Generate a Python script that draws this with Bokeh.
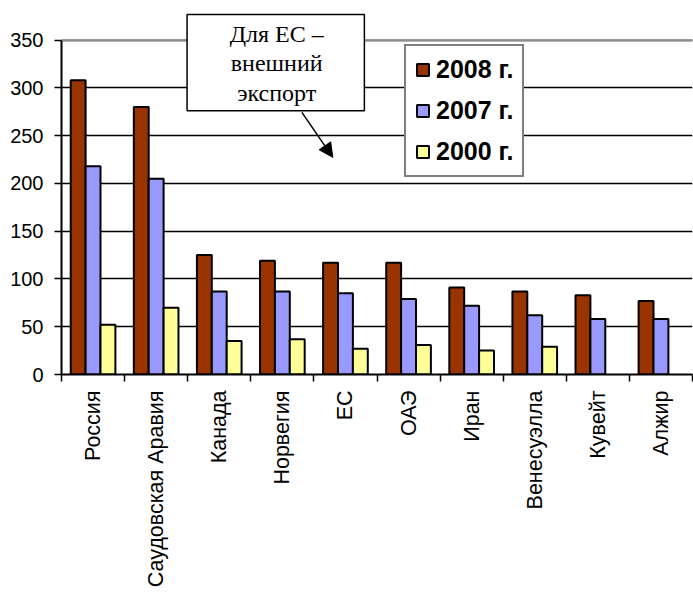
import math
from bokeh.plotting import figure
from bokeh.models import (Range1d, FixedTicker, Legend, LegendItem, BoxAnnotation,
                          Label, Arrow, NormalHead, ColumnDataSource, Span)
from bokeh.transform import dodge
from bokeh.embed import file_html
from bokeh.resources import INLINE

# ---- data ----
countries = ["Россия", "Саудовская Аравия", "Канада", "Норвегия", "ЕС",
             "ОАЭ", "Иран", "Венесуэлла", "Кувейт", "Алжир"]
v2008 = [308, 280, 125, 119, 117, 117, 91, 87, 83, 77]
v2007 = [218, 205, 87, 87, 85, 79, 72, 62, 58, 58]
v2000 = [52, 70, 35, 37, 27, 31, 25, 29, None, None]
series_labels = ["2008 г.", "2007 г.", "2000 г."]
series_colors = ["#993300", "#9999FF", "#FFFF99"]
y_ticks = [0, 50, 100, 150, 200, 250, 300, 350]
note_lines = ["Для ЕС –", "внешний", "экспорт"]

nan = float("nan")
centers = [i + 0.5 for i in range(len(countries))]
src = ColumnDataSource(dict(
    x=centers,
    s0=v2008,
    s1=v2007,
    s2=[nan if v is None else v for v in v2000],
))

p = figure(width=693, height=592, output_backend="svg", toolbar_location=None,
           x_range=Range1d(0, len(countries)), y_range=Range1d(0, 380),
           min_border_left=61, min_border_right=1, min_border_top=11,
           min_border_bottom=218)
p.outline_line_color = None
p.background_fill_color = "white"
p.border_fill_color = "white"

bw = 0.236
offsets = [-bw, 0.0, bw]
renderers = []
for k, (col, c) in enumerate(zip(["s0", "s1", "s2"], series_colors)):
    r = p.vbar(x=dodge("x", offsets[k], range=p.x_range), top=col, width=bw,
               source=src, fill_color=c, line_color="black", line_width=2)
    renderers.append(r)

# axes
xa = p.xaxis[0]
xa.ticker = FixedTicker(ticks=centers, minor_ticks=list(range(len(countries) + 1)))
xa.major_label_overrides = {c: n for c, n in zip(centers, countries)}
xa.major_label_orientation = math.pi / 2
xa.major_tick_line_color = None
xa.major_tick_out = 7
xa.major_tick_in = 0
xa.minor_tick_out = 7
xa.minor_tick_in = 0
xa.minor_tick_line_color = "black"
xa.minor_tick_line_width = 1.5
xa.axis_line_color = "black"
xa.axis_line_width = 2
xa.major_label_standoff = 9
xa.major_label_text_font = "Liberation Sans"
xa.major_label_text_font_size = "21.5px"
xa.major_label_text_color = "black"

ya = p.yaxis[0]
ya.ticker = FixedTicker(ticks=y_ticks)
ya.bounds = (0, 350)
ya.major_tick_out = 7
ya.major_tick_in = 0
ya.major_tick_line_color = "black"
ya.major_tick_line_width = 1.5
ya.minor_tick_line_color = None
ya.axis_line_color = "black"
ya.axis_line_width = 2
ya.major_label_standoff = 11
ya.major_label_text_font = "Liberation Sans"
ya.major_label_text_font_size = "20px"
ya.major_label_text_color = "black"

p.xgrid.grid_line_color = None
p.ygrid.ticker = FixedTicker(ticks=y_ticks)
p.ygrid.grid_line_color = "black"
p.ygrid.grid_line_width = 1.5

# grey plot-area top border at the max tick
p.add_layout(Span(location=y_ticks[-1], dimension="width", line_color="#8c8c8c",
                  line_width=2, level="underlay"))

# annotation box with arrow
box = BoxAnnotation(left=1.99, right=4.80, top=376.8, bottom=276.2,
                    fill_color="white", fill_alpha=1.0,
                    line_color="black", line_alpha=1.0, line_width=1.5)
p.add_layout(box)
for txt, yy in zip(note_lines, [356.5, 326.2, 295.1]):
    p.add_layout(Label(x=3.41, y=yy, text=txt, text_align="center",
                       text_baseline="alphabetic", text_font="Liberation Serif",
                       text_font_size="24px", text_color="black"))
p.add_layout(Arrow(end=NormalHead(size=14, fill_color="black", line_color="black"),
                   x_start=3.81, y_start=274.4, x_end=4.30, y_end=227.3,
                   line_color="black", line_width=1.5))

legend = Legend(items=[LegendItem(label=l, renderers=[r])
                       for l, r in zip(series_labels, renderers)],
                location=(343, 197))
legend.border_line_color = "black"
legend.border_line_width = 2
legend.background_fill_color = "white"
legend.background_fill_alpha = 1.0
legend.glyph_width = 15
legend.glyph_height = 15
legend.label_text_font = "Liberation Sans"
legend.label_text_font_style = "bold"
legend.label_text_font_size = "25px"
legend.label_text_color = "black"
legend.label_standoff = 6
legend.spacing = 12
legend.padding = 9
legend.margin = 0
p.add_layout(legend)

open("out.html", "w").write(file_html(p, INLINE))
